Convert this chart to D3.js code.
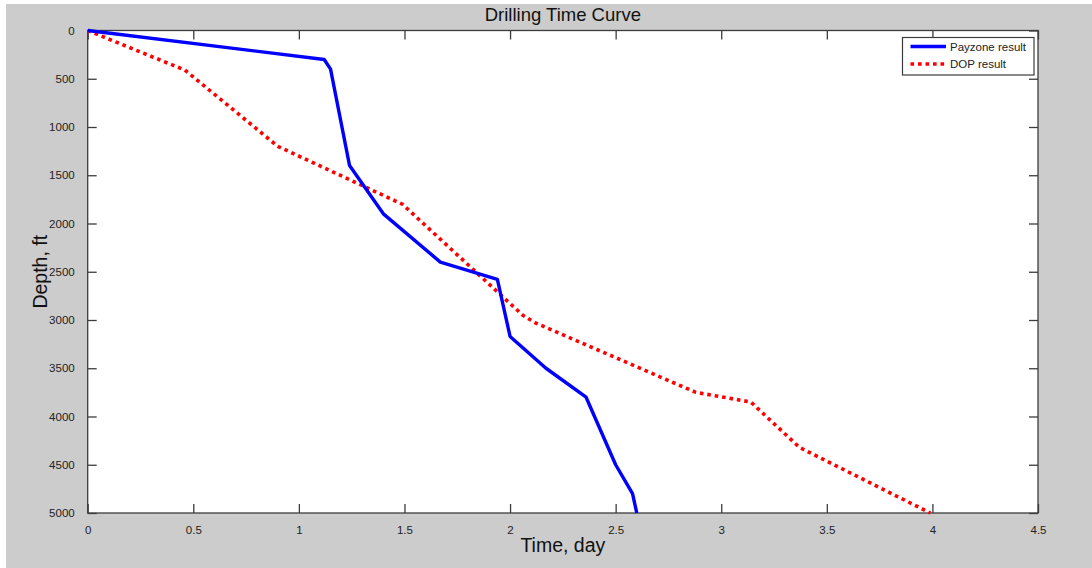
<!DOCTYPE html>
<html>
<head>
<meta charset="utf-8">
<script src="https://cdn.jsdelivr.net/npm/d3@7"></script>
<style>
  html, body { margin: 0; padding: 0; background: #ffffff; }
  svg { display: block; font-family: "Liberation Sans", Arial, Helvetica, sans-serif; }
</style>
</head>
<body>
<svg id="chart" width="1092" height="568"></svg>
<script>
// ---- data ----
const chartTitle = "Drilling Time Curve";
const xLabel = "Time, day";
const yLabel = "Depth, ft";
const seriesNames = ["Payzone result", "DOP result"];

const payzoneTime  = [0, 1.12, 1.15, 1.24, 1.40, 1.67, 1.94, 2.00, 2.17, 2.36, 2.50, 2.58, 2.60];
const payzoneDepth = [0, 300, 400, 1400, 1900, 2400, 2580, 3170, 3500, 3800, 4500, 4800, 5000];

const dopTime  = [0, 0.46, 0.90, 1.49, 2.06, 2.12, 2.88, 3.14, 3.37, 3.99];
const dopDepth = [0, 410, 1200, 1800, 2950, 3030, 3750, 3850, 4320, 5000];

const xTickValues = [0, 0.5, 1, 1.5, 2, 2.5, 3, 3.5, 4, 4.5];
const xTickLabels = ["0", "0.5", "1", "1.5", "2", "2.5", "3", "3.5", "4", "4.5"];
const yTickValues = [0, 500, 1000, 1500, 2000, 2500, 3000, 3500, 4000, 4500, 5000];
const yTickLabels = ["0", "500", "1000", "1500", "2000", "2500", "3000", "3500", "4000", "4500", "5000"];

// ---- layout ----
const W = 1092, H = 568;
const pLeft = 87.7, pRight = 1038, pTop = 30.5, pBottom = 513;
const axisColor = "#3c3c3c";
const textColor = "#222222";

const svg = d3.select("#chart");

// figure background
svg.append("rect").attr("x", 0).attr("y", 0).attr("width", W).attr("height", H).attr("fill", "#ffffff");
svg.append("rect").attr("x", 6).attr("y", 4).attr("width", W - 6).attr("height", H - 4).attr("fill", "#cccccc");

// axes background
svg.append("rect").attr("x", pLeft).attr("y", pTop).attr("width", pRight - pLeft).attr("height", pBottom - pTop).attr("fill", "#ffffff");

const x = d3.scaleLinear().domain([0, 4.5]).range([pLeft, pRight]);
const y = d3.scaleLinear().domain([0, 5000]).range([pTop, pBottom]);

const tickLen = 9;
function styleAxis(g) {
  g.select(".domain").remove();
  g.selectAll(".tick line").attr("stroke", axisColor).attr("stroke-width", 1.3);
  g.selectAll(".tick text").attr("fill", textColor).style("font-size", "11.5px")
    .style("font-family", "'Liberation Sans', Arial, sans-serif");
}

// bottom axis (ticks inward)
const gx = svg.append("g").attr("transform", `translate(0,${pBottom})`)
  .call(d3.axisBottom(x).tickValues(xTickValues).tickFormat((d, i) => xTickLabels[i])
    .tickSizeInner(-tickLen).tickSizeOuter(0).tickPadding(tickLen + 4));
styleAxis(gx);

// top axis (ticks only)
const gxt = svg.append("g").attr("transform", `translate(0,${pTop})`)
  .call(d3.axisTop(x).tickValues(xTickValues).tickFormat("").tickSizeInner(-tickLen).tickSizeOuter(0));
styleAxis(gxt);

// left axis
const gy = svg.append("g").attr("transform", `translate(${pLeft},0)`)
  .call(d3.axisLeft(y).tickValues(yTickValues).tickFormat((d, i) => yTickLabels[i])
    .tickSizeInner(-tickLen).tickSizeOuter(0).tickPadding(tickLen + 4));
styleAxis(gy);

// right axis (ticks only)
const gyr = svg.append("g").attr("transform", `translate(${pRight},0)`)
  .call(d3.axisRight(y).tickValues(yTickValues).tickFormat("").tickSizeInner(-tickLen).tickSizeOuter(0));
styleAxis(gyr);

// axes box
svg.append("rect").attr("x", pLeft).attr("y", pTop).attr("width", pRight - pLeft).attr("height", pBottom - pTop)
  .attr("fill", "none").attr("stroke", axisColor).attr("stroke-width", 1.3);

// clip
svg.append("clipPath").attr("id", "plotclip").append("rect")
  .attr("x", pLeft - 3).attr("y", pTop - 3).attr("width", pRight - pLeft + 6).attr("height", pBottom - pTop + 6);

const line = d3.line().x(d => x(d[0])).y(d => y(d[1]));
const payzone = payzoneTime.map((t, i) => [t, payzoneDepth[i]]);
const dop = dopTime.map((t, i) => [t, dopDepth[i]]);

const plot = svg.append("g").attr("clip-path", "url(#plotclip)");
plot.append("path").datum(dop).attr("d", line)
  .attr("fill", "none").attr("stroke", "#ff0000").attr("stroke-width", 3.6)
  .attr("stroke-dasharray", "3.6,3.9");
plot.append("path").datum(payzone).attr("d", line)
  .attr("fill", "none").attr("stroke", "#0000ff").attr("stroke-width", 3.4)
  .attr("stroke-linejoin", "round");

// title
svg.append("text").attr("x", (pLeft + pRight) / 2).attr("y", 21)
  .attr("text-anchor", "middle").attr("fill", "#111111")
  .style("font-size", "18.5px").text(chartTitle);

// axis labels
svg.append("text").attr("x", (pLeft + pRight) / 2).attr("y", 552)
  .attr("text-anchor", "middle").attr("fill", "#111111")
  .style("font-size", "19.5px").text(xLabel);
svg.append("text").attr("transform", `translate(47,${(pTop + pBottom) / 2}) rotate(-90)`)
  .attr("text-anchor", "middle").attr("fill", "#111111")
  .style("font-size", "19.5px").text(yLabel);

// legend
const lg = svg.append("g");
lg.append("rect").attr("x", 902.5).attr("y", 37.5).attr("width", 131.5).attr("height", 37.5)
  .attr("fill", "#ffffff").attr("stroke", axisColor).attr("stroke-width", 1.2);
const legendItems = [
  { name: seriesNames[0], color: "#0000ff", dash: null, yy: 46.5 },
  { name: seriesNames[1], color: "#ff0000", dash: "3.6,3.9", yy: 64 }
];
legendItems.forEach(it => {
  const l = lg.append("line").attr("x1", 910.5).attr("x2", 946).attr("y1", it.yy).attr("y2", it.yy)
    .attr("stroke", it.color).attr("stroke-width", 3.4);
  if (it.dash) l.attr("stroke-dasharray", it.dash);
  lg.append("text").attr("x", 950).attr("y", it.yy + 4).attr("fill", textColor)
    .style("font-size", "11.5px").text(it.name);
});
</script>
</body>
</html>
